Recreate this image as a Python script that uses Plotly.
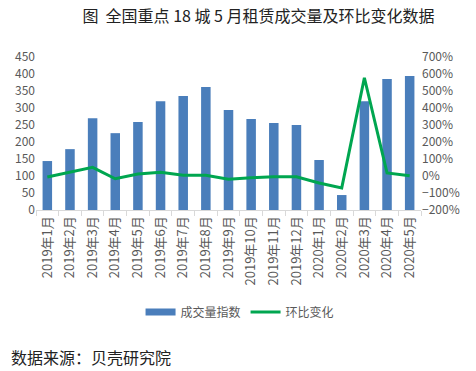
import plotly.graph_objects as go

months = ["2019年1月", "2019年2月", "2019年3月", "2019年4月", "2019年5月", "2019年6月",
          "2019年7月", "2019年8月", "2019年9月", "2019年10月", "2019年11月", "2019年12月",
          "2020年1月", "2020年2月", "2020年3月", "2020年4月", "2020年5月"]
volume_index = [144, 179, 270, 226, 259, 320, 335, 362, 294, 268, 256, 250, 147, 44, 320, 385, 394]
mom_change = [-6, 24, 51, -16, 12, 22, 5, 4, -19, -10, -4, -4, -41, -70, 578, 18, 2]

FONT = "Noto Sans CJK SC"
GRAY = "#595959"
BAR_COLOR = "#4A7EBB"

fig = go.Figure()
fig.add_trace(go.Bar(x=months, y=volume_index, name="成交量指数", showlegend=False,
                     marker=dict(color=BAR_COLOR, line=dict(width=0)), yaxis="y"))
# legend entry with a wide rectangular swatch for the bars
fig.add_trace(go.Scatter(x=[None], y=[None], name="成交量指数", mode="lines",
                         line=dict(color=BAR_COLOR, width=7), yaxis="y"))
fig.add_trace(go.Scatter(x=months, y=mom_change, name="环比变化", mode="lines",
                         line=dict(color="#00A650", width=3), yaxis="y2"))

fig.update_layout(
    width=476, height=371,
    margin=dict(l=36, r=55, t=57, b=161),
    paper_bgcolor="white", plot_bgcolor="white",
    font=dict(family=FONT, size=12, color=GRAY),
    title=dict(text="图  全国重点 18 城 5 月租赁成交量及环比变化数据",
               x=0.543, xanchor="center", y=1 - 16 / 371, yanchor="middle",
               font=dict(family=FONT, size=16, color="#222222")),
    bargap=0.58,
    showlegend=True,
    legend=dict(orientation="h", x=0.53, xanchor="center", y=-0.667, yanchor="middle",
                font=dict(size=12, color=GRAY), itemwidth=30, tracegroupgap=0),
    xaxis=dict(type="category", tickangle=-90, showgrid=False,
               showline=True, linecolor="#D9D9D9", linewidth=1,
               ticks="outside", tickson="boundaries", ticklen=5, tickcolor="#D9D9D9",
               tickfont=dict(size=13, color=GRAY)),
    yaxis=dict(range=[0, 450], dtick=50, showgrid=False, zeroline=False,
               showline=False, ticks="", tickfont=dict(size=12, color=GRAY)),
    yaxis2=dict(range=[-200, 700], dtick=100, overlaying="y", side="right",
                showgrid=False, zeroline=False, showline=False, ticksuffix="%",
                tickfont=dict(size=12, color=GRAY)),
    annotations=[dict(text="数据来源：贝壳研究院", xref="paper", yref="paper",
                      x=-0.07, y=-0.96, xanchor="left", yanchor="middle",
                      showarrow=False, font=dict(family=FONT, size=16, color="#222222"))],
)

fig.write_html("out.html", config={"displayModeBar": False},
               post_script="document.body.style.margin='0';document.body.style.overflow='hidden';")
